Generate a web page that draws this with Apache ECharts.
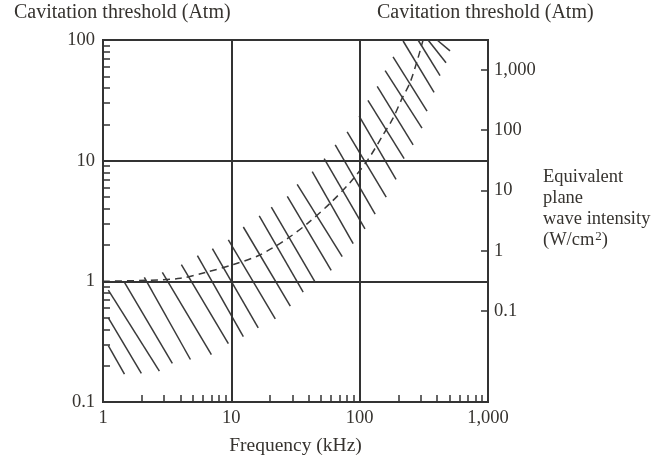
<!DOCTYPE html>
<html lang="en">
<head>
  <meta charset="UTF-8">
  <title>Cavitation threshold vs frequency</title>
  <script src="https://cdn.jsdelivr.net/npm/echarts@6/dist/echarts.min.js"></script>
  <style>
    html, body { margin: 0; padding: 0; background: #fff; }
    #chart { width: 656px; height: 461px; }
  </style>
</head>
<body>
  <div id="chart"></div>
  <script>
    // axis ticks
    const freqLabels = [1, 10, 100, 1000];
    const freqMinorTicks = [2, 3, 4, 5, 6, 7, 8, 9, 20, 30, 40, 50, 60, 70, 80, 90, 200, 300, 400, 500, 600, 700, 800, 900];
    const atmLabels = [0.1, 1, 10, 100];
    const atmMinorTicks = [0.2, 0.3, 0.4, 0.5, 0.6, 0.7, 0.8, 0.9, 2, 3, 4, 5, 6, 7, 8, 9, 20, 30, 40, 50, 60, 70, 80, 90];
    const intensityLabels = [0.1, 1, 10, 100, 1000];

    // dashed threshold curve (kHz, Atm)
    const curveFreq = [1, 2.22, 4.01, 6.28, 10.4, 16.8, 27.8, 39.7, 58.9, 84.3, 116, 152, 182, 214, 247, 285, 312];
    const curveAtm = [1, 1.02, 1.06, 1.185, 1.38, 1.66, 2.29, 3.05, 4.44, 6.6, 10.2, 16.3, 22.5, 32.8, 44.4, 71.1, 100];

    // hatch strokes of the band: upper end -> lower end
    const hatchFreqTop = [1.10, 1.10, 1.10, 1.47, 2.10, 2.90, 4.08, 5.44, 7.12, 9.48, 12.4, 16.5, 20.5, 27.3, 32.6, 42.7, 52.9, 64.5, 79.9, 99.1, 116, 137, 158, 182, 218, 285, 341, 401];
    const hatchAtmTop = [0.293, 0.497, 0.844, 0.981, 1.078, 1.185, 1.378, 1.634, 1.864, 2.21, 2.82, 3.48, 4.12, 5.07, 6.36, 8.13, 10.4, 13.5, 17.3, 23.4, 31.6, 41.2, 55.7, 72.6, 98.1, 100, 100, 100];
    const hatchFreqBottom = [1.47, 1.99, 2.75, 3.47, 4.80, 6.99, 9.48, 12.4, 16.2, 22.0, 28.8, 36.3, 45.1, 60.0, 73.1, 89.0, 110, 132, 161, 192, 222, 261, 306, 335, 380, 423, 471, 506];
    const hatchAtmBottom = [0.170, 0.173, 0.180, 0.209, 0.225, 0.247, 0.305, 0.348, 0.412, 0.488, 0.624, 0.813, 0.981, 1.23, 1.60, 2.05, 2.72, 3.61, 4.98, 6.99, 10.4, 13.5, 18.6, 25.7, 36.8, 50.7, 64.8, 81.2];

    // W/cm2 per Atm^2 for the right-hand scale
    const intensityPerAtm2 = 0.31;

    const serif = '"Liberation Serif", "DejaVu Serif", serif';
    const ink = '#36332f';
    const lineInk = '#333';

    const chart = echarts.init(document.getElementById('chart'));

    const hatchData = hatchFreqTop.map((f, i) => ({
      coords: [[f, hatchAtmTop[i]], [hatchFreqBottom[i], hatchAtmBottom[i]]]
    }));
    const curveData = curveFreq.map((f, i) => [f, curveAtm[i]]);

    chart.setOption({
      animation: false,
      backgroundColor: '#fff',
      grid: {
        left: 103, top: 40, width: 385, height: 366,
        show: true, borderColor: lineInk, borderWidth: 2, backgroundColor: 'transparent'
      },
      xAxis: {
        type: 'log', logBase: 10, min: 1, max: 1000,
        name: 'Frequency (kHz)', nameLocation: 'middle', nameGap: 34,
        nameTextStyle: { fontFamily: serif, fontSize: 19.5, color: ink },
        axisLine: { show: true, lineStyle: { color: lineInk, width: 2 } },
        axisTick: { show: true, inside: true, length: 7, customValues: freqMinorTicks, lineStyle: { color: lineInk, width: 1.5 } },
        axisLabel: {
          customValues: freqLabels, margin: 7,
          fontFamily: serif, fontSize: 18.5, color: ink,
          formatter: v => v >= 1000 ? '1,000' : String(v)
        },
        splitLine: { show: false }
      },
      yAxis: [
        {
          type: 'log', logBase: 10, min: 0.1, max: 100,
          axisLine: { show: true, lineStyle: { color: lineInk, width: 2 } },
          axisTick: { show: true, inside: true, length: 7, customValues: atmMinorTicks, lineStyle: { color: lineInk, width: 1.5 } },
          axisLabel: {
            customValues: atmLabels, margin: 8,
            fontFamily: serif, fontSize: 18.5, color: ink,
            formatter: v => String(v)
          },
          splitLine: { show: false }
        },
        {
          type: 'log', logBase: 10, position: 'right',
          min: 0.01 * intensityPerAtm2, max: 10000 * intensityPerAtm2,
          axisLine: { show: true, lineStyle: { color: lineInk, width: 2 } },
          axisTick: { show: true, inside: true, length: 7, customValues: intensityLabels, lineStyle: { color: lineInk, width: 1.5 } },
          axisLabel: {
            customValues: intensityLabels, margin: 6,
            fontFamily: serif, fontSize: 18.5, color: ink,
            formatter: v => v >= 1000 ? '1,000' : String(v)
          },
          splitLine: { show: false }
        }
      ],
      graphic: [
        { type: 'text', left: 14, top: 3, style: { text: 'Cavitation threshold (Atm)', font: '20px ' + serif, fill: ink } },
        { type: 'text', left: 377, top: 3, style: { text: 'Cavitation threshold (Atm)', font: '20px ' + serif, fill: ink } },
        {
          type: 'text', left: 543, top: 167,
          style: {
            text: 'Equivalent\nplane\nwave intensity\n(W/cm{sup|2})',
            font: '18.5px ' + serif, fill: ink, lineHeight: 21,
            rich: { sup: { fontSize: 13, fontFamily: serif, fill: ink, padding: [0, 0, 7, 1] } }
          }
        }
      ],
      series: [
        {
          type: 'lines',
          coordinateSystem: 'cartesian2d',
          data: hatchData,
          silent: true,
          lineStyle: { color: '#3a3a3a', width: 1.5, opacity: 1 }
        },
        {
          type: 'line',
          data: curveData,
          smooth: 0.3,
          showSymbol: false,
          silent: true,
          lineStyle: { color: '#3a3a3a', width: 1.5, type: [7, 5] },
          markLine: {
            silent: true, symbol: 'none', label: { show: false },
            lineStyle: { color: lineInk, width: 2, type: 'solid' },
            data: [{ xAxis: 10 }, { xAxis: 100 }, { yAxis: 1 }, { yAxis: 10 }]
          }
        }
      ]
    });
  </script>
</body>
</html>
